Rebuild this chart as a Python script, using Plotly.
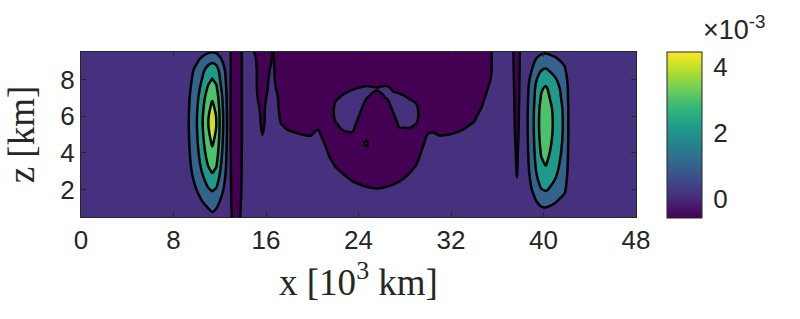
import numpy as np
import plotly.graph_objects as go

# x positions of the sampled columns (10^3 km)
x_km = [0, 4, 8, 9.0, 9.5, 10.0, 10.5, 11.0, 11.35, 11.7, 12.1, 12.5, 12.85, 13.2, 13.6,
        14.1, 14.6, 15.1, 15.4, 15.7, 16.0, 16.3, 16.6, 16.95, 17.3, 17.8, 18.5, 19.2, 19.9,
        20.5, 21.0, 21.5, 22.0, 22.5, 23.0, 23.5, 24.0, 24.7, 25.2, 25.6, 26.0, 26.5, 27.0,
        27.5, 28.0, 28.5, 29.0, 29.5, 30.0, 30.5, 31.0, 32.0, 33.0, 34.0, 34.7, 35.2, 35.7,
        36.5, 37.1, 37.7, 38.2, 38.6, 39.0, 39.4, 39.8, 40.2, 40.6, 41.0, 41.4, 41.8, 42.2,
        42.6, 43.5, 48]

# heights of the sampled rows (km)
z_km = [0.5, 1.0, 1.5, 2.0, 2.5, 3.0, 3.5, 4.0, 4.5, 5.0, 5.5, 6.0, 6.5, 7.0, 7.5, 8.0,
        8.5, 9.0, 9.5]

# field values (x10^-3), one list per x column, bottom (z=0.5) to top (z=9.5)
w_cols = [
    [0.25] * 19,
    [0.25] * 19,
    [0.25] * 19,
    [0.30, 0.31, 0.34, 0.38, 0.42, 0.46, 0.48, 0.51, 0.53, 0.54, 0.55, 0.55, 0.53, 0.51, 0.48, 0.45, 0.42, 0.37, 0.30],
    [0.40, 0.45, 0.56, 0.69, 0.81, 0.93, 1.03, 1.11, 1.17, 1.22, 1.25, 1.24, 1.19, 1.13, 1.03, 0.92, 0.82, 0.63, 0.42],
    [0.51, 0.60, 0.78, 1.01, 1.21, 1.41, 1.57, 1.71, 1.81, 1.89, 1.95, 1.93, 1.85, 1.74, 1.57, 1.39, 1.22, 0.90, 0.54],
    [0.66, 0.80, 1.09, 1.45, 1.77, 2.09, 2.35, 2.56, 2.73, 2.86, 2.95, 2.92, 2.79, 2.61, 2.35, 2.06, 1.80, 1.29, 0.72],
    [0.81, 1.01, 1.41, 1.91, 2.35, 2.80, 3.16, 3.44, 3.67, 3.85, 3.98, 3.94, 3.76, 3.51, 3.16, 2.75, 2.39, 1.68, 0.90],
    [0.88, 1.10, 1.55, 2.10, 2.60, 3.10, 3.50, 3.82, 4.08, 4.28, 4.42, 4.38, 4.18, 3.90, 3.50, 3.04, 2.64, 1.85, 0.97],
    [0.82, 1.02, 1.43, 1.92, 2.38, 2.83, 3.19, 3.48, 3.71, 3.89, 4.02, 3.98, 3.80, 3.55, 3.19, 2.77, 2.41, 1.70, 0.90],
    [0.61, 0.73, 0.98, 1.29, 1.58, 1.86, 2.08, 2.26, 2.41, 2.52, 2.60, 2.58, 2.46, 2.31, 2.08, 1.82, 1.60, 1.15, 0.66],
    [0.42, 0.49, 0.61, 0.76, 0.90, 1.04, 1.15, 1.23, 1.31, 1.36, 1.40, 1.39, 1.33, 1.26, 1.15, 1.02, 0.91, 0.69, 0.45],
    [0.25] * 19,
    [-0.20, -0.28, -0.35, -0.41, -0.46, -0.50, -0.54, -0.57] + [-0.60] * 11,
    [-0.15, -0.22, -0.28, -0.33, -0.38, -0.42, -0.45, -0.48] + [-0.50] * 11,
    [0.3] * 19,
    [0.3] * 19,
    [0.3] * 17 + [0.10, -0.10],
    [0.3] * 11 + [0.28, 0.03, -0.22, -0.47] + [-0.55] * 4,
    [0.3] * 8 + [0.23, -0.03, -0.28, -0.53] + [-0.55] * 7,
    [0.3] * 12 + [0.22, -0.03, -0.28, -0.53] + [-0.55] * 3,
    [0.3] * 15 + [0.24, -0.02, -0.27, -0.52],
    [0.3] * 17 + [0.20, 0.10],
    [0.3] * 13 + [0.15, -0.10, -0.35] + [-0.55] * 3,
    [0.3] * 10 + [0.05, -0.20, -0.45] + [-0.55] * 6,
    [0.3] * 9 + [0.14, -0.12, -0.37] + [-0.55] * 7,
    [0.3] * 9 + [0.06, -0.19, -0.44] + [-0.55] * 7,
    [0.3] * 8 + [0.24, -0.01, -0.26, -0.51] + [-0.55] * 7,
    [0.3] * 8 + [0.23, -0.03, -0.28, -0.53] + [-0.55] * 7,
    [0.3] * 9 + [0.14, -0.12, -0.37] + [-0.55] * 7,
    [0.3] * 8 + [0.05, -0.20, -0.45] + [-0.55] * 8,
    [0.3] * 6 + [0.13, -0.12, -0.37] + [-0.55] * 10,
    [0.3] * 5 + [0.12, -0.13, -0.38, -0.55, -0.42, -0.12, 0.18, 0.18, -0.12, -0.42] + [-0.55] * 4,
    [0.3] * 4 + [0.23, -0.03, -0.28, -0.53, -0.55, -0.18, 0.12, 0.30, 0.30, 0.06, -0.24, -0.54] + [-0.55] * 3,
    [0.3] * 4 + [0.09, -0.16, -0.41, -0.55, -0.39, -0.09, 0.21, 0.30, 0.30, 0.18, -0.12, -0.42] + [-0.55] * 3,
    [0.3] * 3 + [0.23, -0.03, -0.28, -0.53, -0.55, -0.39, -0.09, 0.21, 0.30, 0.30, 0.27, -0.03, -0.33] + [-0.55] * 3,
    [0.3] * 3 + [0.15, -0.10, -0.35, -0.55, -0.55, -0.55, -0.55, -0.27, 0.03, 0.30, 0.30, 0.03, -0.27] + [-0.55] * 3,
    [0.3] * 3 + [0.08, -0.18, -0.43, -0.55, -0.55, 0.22, -0.55, -0.55, -0.55, -0.32, 0.02, 0.10, -0.26] + [-0.55] * 3,
    [0.3] * 2 + [0.29, 0.04, -0.21, -0.46] + [-0.55] * 7 + [-0.10, 0.08, -0.30] + [-0.55] * 3,
    [0.3] * 2 + [0.28, 0.03, -0.23, -0.48] + [-0.55] * 7 + [-0.20, 0.05, -0.35] + [-0.55] * 3,
    [0.3] * 2 + [0.29, 0.04, -0.22, -0.47] + [-0.55] * 7 + [-0.10, 0.10, -0.30] + [-0.55] * 3,
    [0.3] * 3 + [0.08, -0.18, -0.43] + [-0.55] * 6 + [-0.30, 0.05, 0.12, -0.30] + [-0.55] * 3,
    [0.3] * 3 + [0.14, -0.11, -0.36] + [-0.55] * 4 + [-0.42, -0.12, 0.18, 0.21, -0.09, -0.39] + [-0.55] * 3,
    [0.3] * 3 + [0.21, -0.04, -0.29, -0.54, -0.55, -0.55, -0.23, 0.07, 0.30, 0.30, 0.15, -0.15, -0.45] + [-0.55] * 3,
    [0.3] * 4 + [0.08, -0.18, -0.43, -0.55, -0.55, -0.22, 0.08, 0.30, 0.30, 0.06, -0.24, -0.54] + [-0.55] * 3,
    [0.3] * 4 + [0.23, -0.03, -0.28, -0.53, -0.55, -0.22, 0.08, 0.30, 0.24, -0.06, -0.36] + [-0.55] * 4,
    [0.3] * 5 + [0.18, -0.08, -0.33, -0.55, -0.36, -0.06, 0.30, 0.15, -0.24, -0.54] + [-0.55] * 4,
    [0.3] * 7 + [0.10, -0.15, -0.40] + [-0.55] * 9,
    [0.3] * 8 + [0.28, 0.03, -0.23, -0.48] + [-0.55] * 7,
    [0.3] * 9 + [0.05, -0.20, -0.45] + [-0.55] * 7,
    [0.3] * 8 + [0.23, -0.03, -0.28, -0.53] + [-0.55] * 7,
    [0.3] * 8 + [0.26, 0.01, -0.24, -0.49] + [-0.55] * 7,
    [0.3] * 9 + [0.13, -0.13, -0.38] + [-0.55] * 7,
    [0.3] * 10 + [0.10, -0.15, -0.40] + [-0.55] * 6,
    [0.3] * 12 + [0.03, -0.23, -0.48] + [-0.55] * 4,
    [0.3] * 14 + [0.03, -0.23, -0.48, -0.55, -0.55],
    [0.3] * 19,
    [0.3] * 19,
    [0.3] * 19,
    [0.09, 0.07, 0.05, 0.02, 0.01, -0.02, -0.04, -0.06, -0.08, -0.11, -0.13, -0.15, -0.17, -0.19, -0.21, -0.23, -0.26, -0.28, -0.30],
    [0.3] * 19,
    [0.39, 0.43, 0.53, 0.65, 0.73, 0.80, 0.85, 0.89, 0.92, 0.94, 0.95, 0.95, 0.93, 0.89, 0.86, 0.77, 0.66, 0.54, 0.42],
    [0.48, 0.57, 0.75, 1.01, 1.17, 1.31, 1.40, 1.48, 1.54, 1.58, 1.60, 1.59, 1.56, 1.48, 1.41, 1.25, 1.02, 0.77, 0.54],
    [0.61, 0.77, 1.10, 1.55, 1.83, 2.08, 2.25, 2.39, 2.50, 2.57, 2.60, 2.59, 2.53, 2.39, 2.27, 1.97, 1.57, 1.14, 0.72],
    [0.71, 0.93, 1.36, 1.96, 2.33, 2.66, 2.89, 3.07, 3.21, 3.30, 3.35, 3.33, 3.26, 3.07, 2.91, 2.52, 1.98, 1.41, 0.86],
    [0.75, 0.98, 1.45, 2.10, 2.50, 2.85, 3.10, 3.30, 3.45, 3.55, 3.60, 3.58, 3.50, 3.30, 3.12, 2.70, 2.12, 1.50, 0.90],
    [0.69, 0.90, 1.31, 1.88, 2.23, 2.54, 2.76, 2.94, 3.07, 3.16, 3.20, 3.18, 3.11, 2.94, 2.78, 2.41, 1.90, 1.36, 0.83],
    [0.64, 0.82, 1.17, 1.66, 1.97, 2.23, 2.42, 2.57, 2.69, 2.76, 2.80, 2.79, 2.73, 2.57, 2.44, 2.12, 1.68, 1.21, 0.76],
    [0.57, 0.71, 0.99, 1.39, 1.63, 1.85, 2.00, 2.12, 2.21, 2.27, 2.30, 2.29, 2.24, 2.12, 2.01, 1.75, 1.40, 1.03, 0.66],
    [0.51, 0.62, 0.84, 1.15, 1.33, 1.50, 1.61, 1.71, 1.78, 1.83, 1.85, 1.84, 1.80, 1.71, 1.63, 1.43, 1.16, 0.86, 0.58],
    [0.38, 0.42, 0.50, 0.62, 0.69, 0.75, 0.79, 0.83, 0.85, 0.87, 0.88, 0.88, 0.86, 0.83, 0.80, 0.72, 0.62, 0.51, 0.41],
    [0.3] * 19,
    [0.3] * 19,
    [0.3] * 19,
]
assert len(w_cols) == len(x_km)
assert all(len(c) == len(z_km) for c in w_cols)

levels = [0, 1, 2, 3, 4]
cbar_range = [-0.58, 4.45]
cbar_ticks = [0, 2, 4]
x_ticks = [0, 8, 16, 24, 32, 40, 48]
y_ticks = [2, 4, 6, 8]

W = np.array(w_cols).T

band_colors = ["#440154", "#46317e", "#33638d", "#1f998a", "#4cc26c", "#cde11d"]
step_scale = []
edges = [0, 0.1, 0.3, 0.5, 0.7, 0.9, 1.0]
for i, c in enumerate(band_colors):
    step_scale.append([edges[i], c])
    step_scale.append([edges[i + 1], c])

ink = "#262626"
sans = "Liberation Sans, Arial"
serif = "Liberation Serif, Times New Roman"
tick_size = 26

fig = go.Figure()
fig.add_trace(go.Contour(
    x=x_km, y=z_km, z=W,
    autocontour=False,
    contours=dict(start=levels[0], end=levels[-1], size=1, coloring="fill", showlines=True),
    line=dict(color="black", width=2.5, smoothing=1.0),
    colorscale=step_scale, showscale=False, hoverinfo="skip",
))
# colour bar (continuous viridis, as in the reference)
fig.add_trace(go.Scatter(
    x=[-100], y=[-100], mode="markers", showlegend=False, hoverinfo="skip",
    marker=dict(size=1, color=[0], colorscale="Viridis", cmin=cbar_range[0], cmax=cbar_range[1],
                showscale=True,
                colorbar=dict(thickness=35, thicknessmode="pixels", len=166, lenmode="pixels",
                              x=(667 - 81) / 555, xanchor="left", y=1, yanchor="top",
                              xpad=0, ypad=0, outlinewidth=1, outlinecolor=ink,
                              tickvals=cbar_ticks, ticks="outside", ticklen=6,
                              tickcolor="rgba(0,0,0,0)",
                              tickfont=dict(family=sans, size=tick_size, color=ink))),
))

axis_common = dict(ticks="inside", ticklen=5, tickcolor=ink, showline=True, linecolor=ink,
                   linewidth=1, mirror="ticks", showgrid=False, zeroline=False,
                   tickfont=dict(family=sans, size=tick_size, color=ink))
fig.update_xaxes(range=[0, 48], tickvals=x_ticks, **axis_common,
                 title=dict(text="x [10<sup>3</sup> km]", standoff=14,
                            font=dict(family=serif, size=37, color=ink)))
fig.update_yaxes(range=[0.5, 9.5], tickvals=y_ticks, **axis_common,
                 title=dict(text="z [km]", standoff=14,
                            font=dict(family=serif, size=37, color=ink)))

fig.add_annotation(x=(701 - 81) / 555, y=1 + (52 - 28) / 165, xref="paper", yref="paper",
                   xanchor="left", yanchor="middle", showarrow=False,
                   text="×10<sup>-3</sup>",
                   font=dict(family=sans, size=27, color=ink))

fig.update_layout(width=800, height=319, margin=dict(l=81, r=164, t=52, b=102),
                  paper_bgcolor="white", plot_bgcolor="white", showlegend=False)
fig.write_html("out.html")
